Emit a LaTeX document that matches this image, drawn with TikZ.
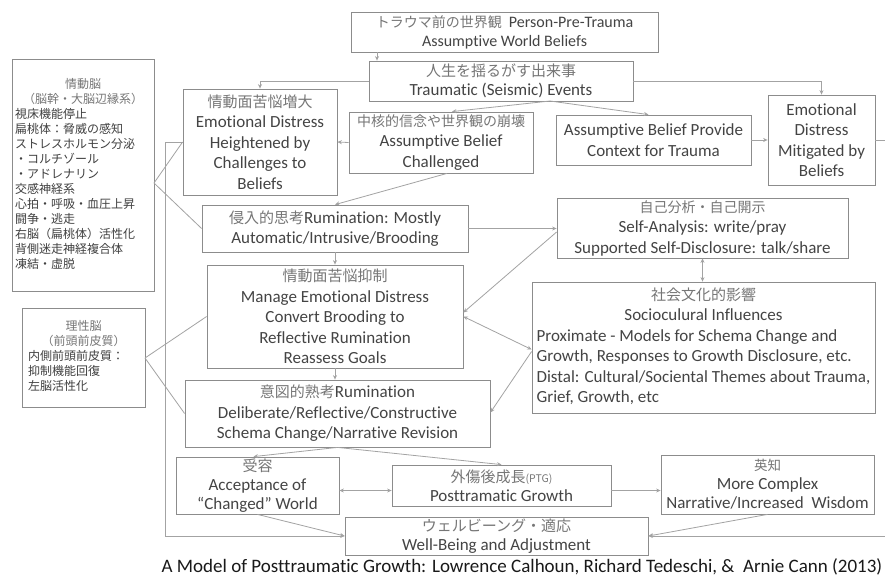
\documentclass[tikz,border=0pt]{standalone}
\usepackage{fontspec}
\setmainfont{Carlito}[Ligatures={NoCommon}]
\newfontfamily\jpf{Noto Sans CJK JP}
\usetikzlibrary{arrows.meta,calc}
\definecolor{bordergray}{HTML}{8C8C8C}
\definecolor{linegray}{HTML}{A3A3A3}
\definecolor{txtgray}{HTML}{444444}
\definecolor{jpgray}{HTML}{767676}
\newcommand{\jt}[1]{{\jpf\fontsize{15}{15}\selectfont\color{jpgray}#1}}
\newcommand{\jts}[2]{{\jpf\fontsize{#1}{#1}\selectfont\color{jpgray}#2}}
\tikzset{
  box/.style={draw=bordergray, line width=0.8pt, fill=white, inner sep=1pt, align=center,
    text=txtgray, font=\fontsize{17}{20.5}\selectfont},
  conn/.style={draw=linegray, line width=0.8pt},
  >={Stealth[length=4.5pt,width=4pt]}
}
\begin{document}
\begin{tikzpicture}[x=1pt,y=-1pt]
\useasboundingbox (0,0) rectangle (885,581);
\fill[white] (0,0) rectangle (885,581);

% boxes
\node[box, minimum width=307, minimum height=40, font=\fontsize{16}{19}\selectfont] (b1) at (504.5,32) {\jts{14}{トラウマ前の世界観}\ \ Person-Pre-Trauma\\Assumptive World Beliefs};
\node[box, minimum width=264, minimum height=40, font=\fontsize{17}{19.5}\selectfont] (b2) at (501,81) {\jt{人生を揺るがす出来事}\\Traumatic (Seismic) Events};
\node[box, minimum width=154, minimum height=106] (b3) at (260,142) {\jt{情動面苦悩増大}\\Emotional Distress\\Heightened by\\Challenges to\\Beliefs};
\node[box, minimum width=184, minimum height=61] (b4) at (441,142.5) {\jts{14}{中核的信念や世界観の崩壊}\\Assumptive Belief\\Challenged};
\node[box, minimum width=195, minimum height=50] (b5) at (653.5,140) {Assumptive Belief Provide\\Context for Trauma};
\node[box, minimum width=107, minimum height=90] (b6) at (821.5,140) {Emotional\\Distress\\Mitigated by\\Beliefs};
\node[box, minimum width=266, minimum height=47] (rum) at (335,228.5) {\jt{侵入的思考}Rumination: Mostly\\Automatic/Intrusive/Brooding};
\node[box, minimum width=291, minimum height=60] (sa) at (702.5,228) {\jts{14}{自己分析・自己開示}\\Self-Analysis: write/pray\\Supported Self-Disclosure: talk/share};
\node[box, minimum width=256, minimum height=103] (man) at (335,316.5) {\jt{情動面苦悩抑制}\\Manage Emotional Distress\\Convert Brooding to\\Reflective Rumination\\Reassess Goals};
\node[box, minimum width=343, minimum height=131, inner sep=0pt] (soc) at (703.5,347.5) {%
  \begin{tabular}{@{}l@{}}
  \multicolumn{1}{@{}c@{}}{\jt{社会文化的影響}}\\
  \multicolumn{1}{@{}c@{}}{Socioculural Influences}\\
  Proximate - Models for Schema Change and\\
  Growth, Responses to Growth Disclosure, etc.\\
  Distal: Cultural/Sociental Themes about Trauma,\\
  Grief, Growth, etc
  \end{tabular}};
\node[box, minimum width=305, minimum height=67] (del) at (337.5,413.5) {\jt{意図的熟考}Rumination\\Deliberate/Reflective/Constructive\\Schema Change/Narrative Revision};
\node[box, minimum width=163, minimum height=57, inner sep=0pt, font=\fontsize{17}{19}\selectfont] (acc) at (257.5,485.5) {\jt{受容}\\Acceptance of\\“Changed” World};
\node[box, minimum width=219, minimum height=41, font=\fontsize{17}{19.5}\selectfont] (ptg) at (501.5,485.5) {\jts{15}{外傷後成長}{\jpf\fontsize{10.5}{10.5}\selectfont\color{jpgray}(PTG)}\\Posttramatic Growth};
\node[box, minimum width=213, minimum height=59, inner sep=0pt, font=\fontsize{17}{19}\selectfont] (wis) at (767.5,484.5) {\jts{13.5}{英知}\\More Complex\\Narrative/Increased\ \ Wisdom};
\node[box, minimum width=303, minimum height=38, inner sep=0pt, font=\fontsize{17}{19}\selectfont] (wb) at (496.5,536) {\jt{ウェルビーング・適応}\\Well-Being and Adjustment};

% brain boxes
\node[box, minimum width=142, minimum height=232, inner sep=0pt, text=black!75, font=\jpf\fontsize{12}{15}\selectfont] (emo) at (83,175) {%
  \begin{tabular}{@{}p{136pt}@{}}
  \multicolumn{1}{@{}c@{}}{\color{jpgray}情動脳}\\
  \multicolumn{1}{@{}c@{}}{\color{jpgray}（脳幹・大脳辺縁系）}\\
  視床機能停止\\
  扁桃体：脅威の感知\\
  ストレスホルモン分泌\\
  ・コルチゾール\\
  ・アドレナリン\\
  交感神経系\\
  心拍・呼吸・血圧上昇\\
  闘争・逃走\\
  右脳（扁桃体）活性化\\
  背側迷走神経複合体\\
  凍結・虚脱
  \end{tabular}};
\node[box, minimum width=123, minimum height=99, inner sep=0pt, text=black!75, font=\jpf\fontsize{12}{15}\selectfont] (rat) at (83.5,357.5) {%
  \begin{tabular}{@{}p{111pt}@{}}
  \multicolumn{1}{@{}c@{}}{\color{jpgray}理性脳}\\
  \multicolumn{1}{@{}c@{}}{\color{jpgray}（前頭前皮質）}\\
  内側前頭前皮質：\\
  抑制機能回復\\
  左脳活性化
  \end{tabular}};

% caption
\node[font=\fontsize{19}{21}\selectfont, text=black!90] (cap) at (522,567) {A Model of Posttraumatic Growth: Lowrence Calhoun, Richard Tedeschi, \&\ \ Arnie Cann (2013)};

% helper coordinates
\coordinate (x377) at (377,0);
\coordinate (x447) at (447,0);
\coordinate (b2s) at (550,101);
\coordinate (rEdge) at (888,140);
\coordinate (emoR) at (154,183);
\coordinate (ratR) at (145,358);
\coordinate (cL) at (165,536);

% connectors
\draw[conn,->] (b1.south -| x377) -- (b2.north -| x377);
\draw[conn,->] (b2.west) -| (b3.north);
\draw[conn,->] (b2.east) -| (b6.north);
\draw[conn,->] (b2s) -- ($(b4.north)+(11,0)$);
\draw[conn,->] (b2s) -- ($(b5.north)+(-5,0)$);
\draw[conn,->] (b4.west) -- (b3.east);
\draw[conn,->] (b5.east) -- (b6.west);
\draw[conn,->] (b6.east) -- (rEdge) |- (wb.east);
\draw[conn] (emoR) -- (b3.west);
\draw[conn] (emoR) -- (rum.west);
\draw[conn,->] (b3.west) -| (cL) |- (wb.west);
\draw[conn] (ratR) -- (man.west);
\draw[conn] (ratR) -- (del.west);
\draw[conn,->] (b4.south -| x447) -- (rum.north);
\draw[conn,->] (rum.south) -- (man.north);
\draw[conn,->] (man.south) -- (man.south |- del.north);
\draw[conn,->] (rum.east) -- (rum.east -| sa.west);
\draw[conn,->] ($(sa.west)+(0,4)$) -- ($(man.east)+(0,-4)$);
\draw[conn,<->] (man.east) -- ($(soc.west)+(0,2)$);
\draw[conn,->] ($(soc.west)+(0,4)$) -- ($(del.east)+(0,-1)$);
\draw[conn,<->] (sa.south) -- (sa.south |- soc.north);
\draw[conn,->] (del.south) -- ($(acc.north)+(-4,0)$);
\draw[conn,->] (del.south) -- (ptg.north);
\draw[conn,<->] ($(acc.east)+(0,5)$) -- ($(ptg.west)+(0,5)$);
\draw[conn,->] ($(ptg.east)+(0,5)$) -- ($(wis.west)+(0,6)$);
\draw[conn,->] (acc.south) -- (wb.west);
\draw[conn,->] (wis.south) -- (wb.east);
\end{tikzpicture}
\end{document}
